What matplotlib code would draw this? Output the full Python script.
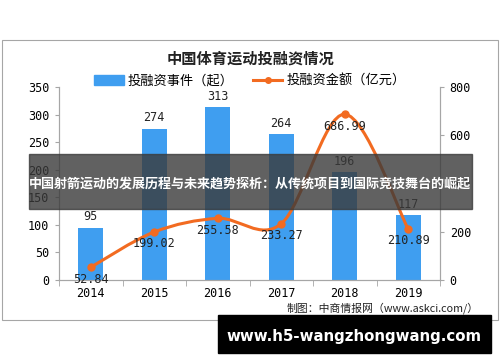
import matplotlib

matplotlib.use("Agg")
import matplotlib.pyplot as plt
from matplotlib.path import Path
from matplotlib.patches import PathPatch, Rectangle
from matplotlib.lines import Line2D
import numpy as np

plt.rcParams["font.family"] = ["Noto Sans CJK SC", "DejaVu Sans"]

years = ["2014", "2015", "2016", "2017", "2018", "2019"]
events = [95, 274, 313, 264, 196, 117]
amounts = [52.84, 199.02, 255.58, 233.27, 686.99, 210.89]
amount_labels = ["52.84", "199.02", "255.58", "233.27", "686.99", "210.89"]

BLUE = "#3f9ef0"
ORANGE = "#f26b21"
GRAY = "#a6a6a6"


def smooth_path(xs, ys, t=0.5):
    # Catmull-Rom -> cubic bezier, similar to Excel's smoothed line
    n = len(xs)
    verts = [(xs[0], ys[0])]
    codes = [Path.MOVETO]
    for i in range(n - 1):
        x0, y0 = (xs[i - 1], ys[i - 1]) if i > 0 else (xs[i], ys[i])
        x1, y1 = xs[i], ys[i]
        x2, y2 = xs[i + 1], ys[i + 1]
        x3, y3 = (xs[i + 2], ys[i + 2]) if i + 2 < n else (x2, y2)
        c1 = (x1 + (x2 - x0) * t / 3, y1 + (y2 - y0) * t / 3)
        c2 = (x2 - (x3 - x1) * t / 3, y2 - (y3 - y1) * t / 3)
        verts += [c1, c2, (x2, y2)]
        codes += [Path.CURVE4] * 3
    return Path(verts, codes)


fig = plt.figure(figsize=(5, 3.62), dpi=100)

# outer chart frame
fig.patches.append(Rectangle((2 / 500, 1 - 320 / 362), 496 / 500, 280 / 362,
                             transform=fig.transFigure, fill=False,
                             edgecolor=GRAY, lw=0.8))

ax = fig.add_axes([59 / 500, 1 - 280 / 362, 381 / 500, 193 / 362])
ax2 = ax.twinx()

x = np.arange(len(years))
ax.bar(x, events, width=0.4, color=BLUE, zorder=2)
for xi, v in zip(x, events):
    ax.text(xi, v + 8, str(v), ha="center", va="bottom", fontsize=8.5,
            family="DejaVu Sans Mono", color="#222222")

ax.set_xlim(-0.5, len(years) - 0.5)
ax.set_ylim(0, 350)
ax.set_yticks(np.arange(0, 351, 50))
ax2.set_ylim(0, 800)
ax2.set_yticks(np.arange(0, 801, 200))

path = smooth_path(list(x), amounts)
ax2.add_patch(PathPatch(path, fill=False, edgecolor=ORANGE, lw=2.2, zorder=3))
ax2.plot(x, amounts, "o", color=ORANGE, markersize=5, zorder=4)
for xi, v, lab in zip(x, amounts, amount_labels):
    ax2.text(xi, v - 22, lab, ha="center", va="top", fontsize=8.5,
             family="DejaVu Sans Mono", color="#222222", zorder=5)

ax.set_xticks(x)
ax.set_xticklabels(years, family="DejaVu Sans Mono")
ax.set_xticks(np.arange(-0.5, len(years), 1), minor=True)
ax.tick_params(axis="x", which="major", length=0, pad=5, labelsize=8.5)
ax.tick_params(axis="x", which="minor", length=4, color=GRAY)
ax.tick_params(axis="y", length=3, color=GRAY, labelsize=8.5, pad=4)
ax2.tick_params(axis="y", length=3, color=GRAY, labelsize=8.5, pad=4)
for lab in ax.get_yticklabels() + ax2.get_yticklabels():
    lab.set_family("DejaVu Sans Mono")

for a in (ax, ax2):
    a.spines["top"].set_visible(False)
    for s in ("left", "right", "bottom"):
        a.spines[s].set_color(GRAY)
ax.set_facecolor("none")

fig.text(0.5, 1 - 59 / 362, "中国体育运动投融资情况", ha="center", va="center",
         fontsize=11, fontweight="bold", color="#222222")

handles = [Rectangle((0, 0), 1, 1, color=BLUE),
           Line2D([], [], color=ORANGE, lw=2.2, marker="o", markersize=4)]
fig.legend(handles, ["投融资事件（起）", "投融资金额（亿元）"], loc="center",
           bbox_to_anchor=(0.5, 1 - 81 / 362), ncol=2, frameon=False,
           fontsize=9.5, handlelength=2.2, columnspacing=1.5, handletextpad=0.3)

fig.text(0.958, 1 - 308.5 / 362, "制图：中商情报网（www.askci.com/）", ha="right",
         va="center", fontsize=7.8, color="#222222")

# overlay banner
fig.patches.append(Rectangle((29 / 500, 1 - 209 / 362), 443 / 500, 55 / 362,
                             transform=fig.transFigure, color="#3a3a3a",
                             alpha=0.8, zorder=10))
fig.text(0.5, 1 - 183 / 362,
         "中国射箭运动的发展历程与未来趋势探析：从传统项目到国际竞技舞台的崛起",
         ha="center", va="center", fontsize=9.4, fontweight="bold",
         color="white", zorder=11)

# bottom url box
fig.patches.append(Rectangle((218 / 500, 1 - 353 / 362), 273 / 500, 38 / 362,
                             transform=fig.transFigure, color="black", zorder=10))
fig.text(354 / 500, 1 - 336 / 362, "www.h5-wangzhongwang.com", ha="center",
         va="center", fontsize=10.8, fontweight="bold", color="white",
         family="DejaVu Sans", zorder=11)

fig.savefig("out.png", dpi=100)
